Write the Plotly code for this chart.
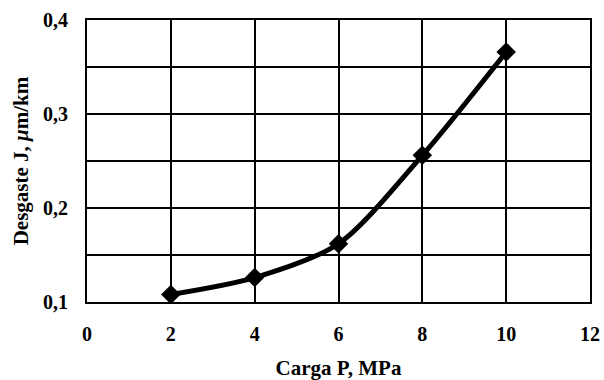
import plotly.graph_objects as go

carga = [2, 4, 6, 8, 10]
desgaste = [0.108, 0.126, 0.162, 0.256, 0.366]

x_ticks = [0, 2, 4, 6, 8, 10, 12]
y_ticks = [0.1, 0.15, 0.2, 0.25, 0.3, 0.35, 0.4]
y_labels = ["0,1", "", "0,2", "", "0,3", "", "0,4"]

fam = "Liberation Serif, Times New Roman, serif"
tickfont = dict(family=fam, size=20, color="black", weight="bold")
titlefont = dict(family=fam, size=21, color="black")

fig = go.Figure()
fig.add_trace(go.Scatter(
    x=carga, y=desgaste, mode="lines+markers",
    line=dict(color="black", width=5, shape="spline", smoothing=0.8),
    marker=dict(symbol="diamond", size=15, color="black"),
    showlegend=False,
))

fig.update_layout(
    width=604, height=380,
    margin=dict(l=87, r=14, t=20, b=78),
    paper_bgcolor="white", plot_bgcolor="white",
    font=dict(family=fam, size=18, color="black"),
)
fig.update_xaxes(
    range=[0, 12], tickvals=x_ticks, ticktext=[str(v) for v in x_ticks],
    showgrid=True, gridcolor="black", gridwidth=2,
    showline=True, linecolor="black", linewidth=2, mirror=True,
    zeroline=False, ticks="", ticklabelstandoff=13, automargin=False,
    tickfont=tickfont,
    title=dict(text="<b>Carga P, MPa</b>", standoff=19, font=titlefont),
)
fig.update_yaxes(
    range=[0.1, 0.4], tickvals=y_ticks, ticktext=y_labels,
    showgrid=True, gridcolor="black", gridwidth=2,
    showline=True, linecolor="black", linewidth=2, mirror=True,
    zeroline=False, ticks="", ticklabelstandoff=13, automargin=False,
    tickfont=tickfont,
    title=dict(text="<b>Desgaste J, <i>μ</i>m/km</b>", standoff=9, font=titlefont),
)

fig.write_html(
    "out.html",
    config={"displayModeBar": False},
    post_script="document.body.style.margin='0';document.body.style.padding='0';",
)
